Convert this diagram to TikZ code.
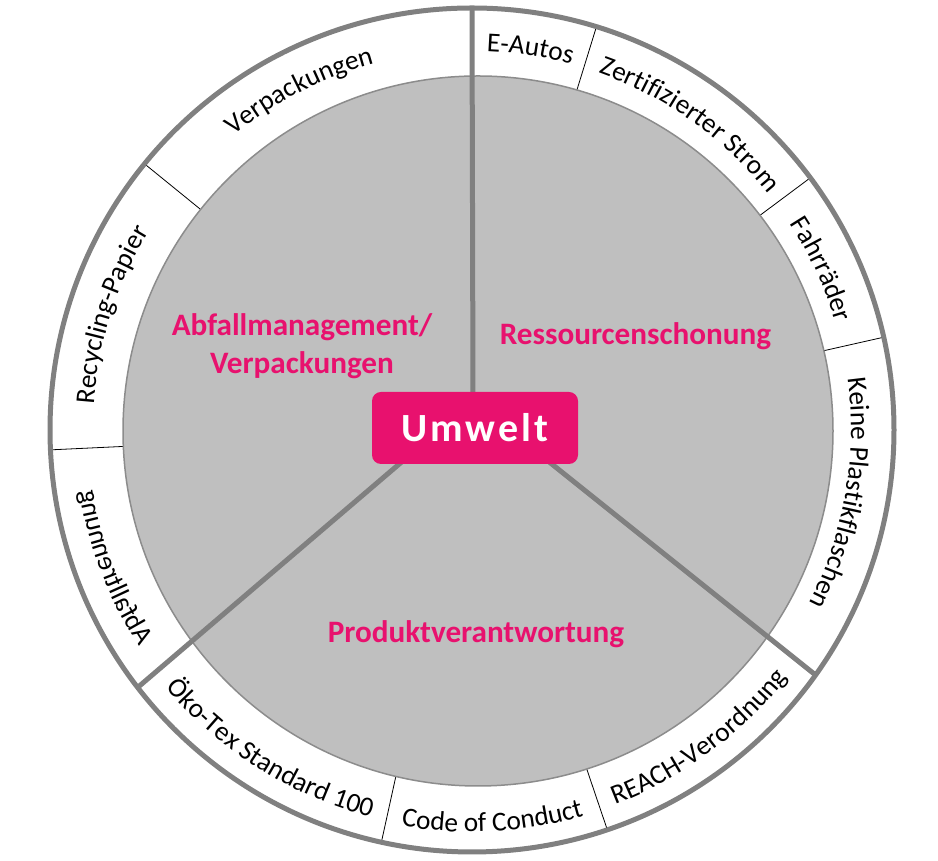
\documentclass[tikz,border=0pt]{standalone}
\usepackage{fontspec}
\setmainfont{Carlito}
\usetikzlibrary{decorations.text}
\definecolor{umweltpink}{HTML}{E8116E}
\definecolor{rimgrey}{HTML}{808080}
\definecolor{diskgrey}{HTML}{BFBFBF}
\definecolor{edgegrey}{HTML}{8C8C8C}
\newcommand\ringfont{\fontsize{27.3}{32}\selectfont}
\newcommand\themefont{\fontsize{31.2}{38}\selectfont\bfseries}
\newcommand\umweltfont{\fontsize{40}{44}\selectfont\bfseries\addfontfeatures{LetterSpace=8}}
\tikzset{
	rim/.style={draw=rimgrey,line width=5pt},
	spoke/.style={draw=rimgrey,line width=5pt},
	divider/.style={draw=black,line width=0.8pt},
	disk/.style={fill=diskgrey,draw=edgegrey,line width=1.5pt},
	umweltbox/.style={fill=umweltpink,text=white,rounded corners=9pt,minimum width=206pt,minimum height=72pt,inner sep=0pt,font=\umweltfont},
	theme/.style={text=umweltpink,font=\themefont,inner sep=0pt},
	ringtext/.style={decorate,decoration={text along path,text={|\ringfont|#1},text align=center}}
}
\begin{document}
\begin{tikzpicture}[x=1pt,y=1pt]
	\useasboundingbox (0,0) rectangle (938,861);
	\coordinate (O) at (472,431);
	\coordinate (I) at (478,430);
	\coordinate (J) at (473,460);
	\path (O) ++(90:422) coordinate (rimN);
	\path (O) ++(217.6:422) coordinate (rimSW);
	\path (O) ++(-35.5:422) coordinate (rimSE);
	\fill[white] (O) circle[radius=422];
	\draw[divider] (O) ++(72.85:330) -- ++(72.85:92);
	\draw[divider] (O) ++(36.7:330) -- ++(36.7:92);
	\draw[divider] (O) ++(12.7:330) -- ++(12.7:92);
	\draw[divider] (O) ++(-71.3:330) -- ++(-71.3:92);
	\draw[divider] (O) ++(-102.4:330) -- ++(-102.4:92);
	\draw[divider] (O) ++(182.7:330) -- ++(182.7:92);
	\draw[divider] (O) ++(140.9:330) -- ++(140.9:92);
	\filldraw[disk] (I) circle[radius=355];
	\draw[spoke] (J) -- (rimN);
	\draw[spoke] (J) -- (rimSW);
	\draw[spoke] (J) -- (rimSE);
	\draw[rim] (O) circle[radius=422];
	\node (umwelt) at (475,433) [umweltbox] {Umwelt};
	\node (abfall) at (302,515) [theme,align=center] {Abfallmanagement/\\Verpackungen};
	\node (ressourcen) at (635.5,516) [theme,anchor=base] {Ressourcenschonung};
	\node (produkt) at (476,218) [theme,anchor=base] {Produktverantwortung};
	\path[ringtext=Verpackungen] (O) ++(157:379) arc[start angle=157,end angle=77,radius=379];
	\path[ringtext=E-Autos] (O) ++(121.3:379) arc[start angle=121.3,end angle=41.3,radius=379];
	\path[ringtext=Zertifizierter Strom] (O) ++(94.5:379) arc[start angle=94.5,end angle=14.5,radius=379];
	\path[ringtext=Fahrräder] (O) ++(64.7:379) arc[start angle=64.7,end angle=-15.3,radius=379];
	\path[ringtext=Keine Plastikflaschen] (O) ++(30.3:379) arc[start angle=30.3,end angle=-49.7,radius=379];
	\path[ringtext=Recycling-Papier] (O) ++(202.3:379) arc[start angle=202.3,end angle=122.3,radius=379];
	\path[ringtext=REACH-Verordnung] (O) ++(-93.6:401) arc[start angle=-93.6,end angle=-13.6,radius=401];
	\path[ringtext=Code of Conduct] (O) ++(-127:402) arc[start angle=-127,end angle=-47,radius=402];
	\path[ringtext=Öko-Tex Standard 100] (O) ++(197.7:400) arc[start angle=197.7,end angle=277.7,radius=400];
	\begin{scope}[transform canvas={shift={(O)},cm={0.7431,0.6691,0.6691,-0.7431,(0,0)}}]
		\path[ringtext=Abfalltrennung] (161:397) arc[start angle=161,end angle=241,radius=397];
	\end{scope}
\end{tikzpicture}
\end{document}
